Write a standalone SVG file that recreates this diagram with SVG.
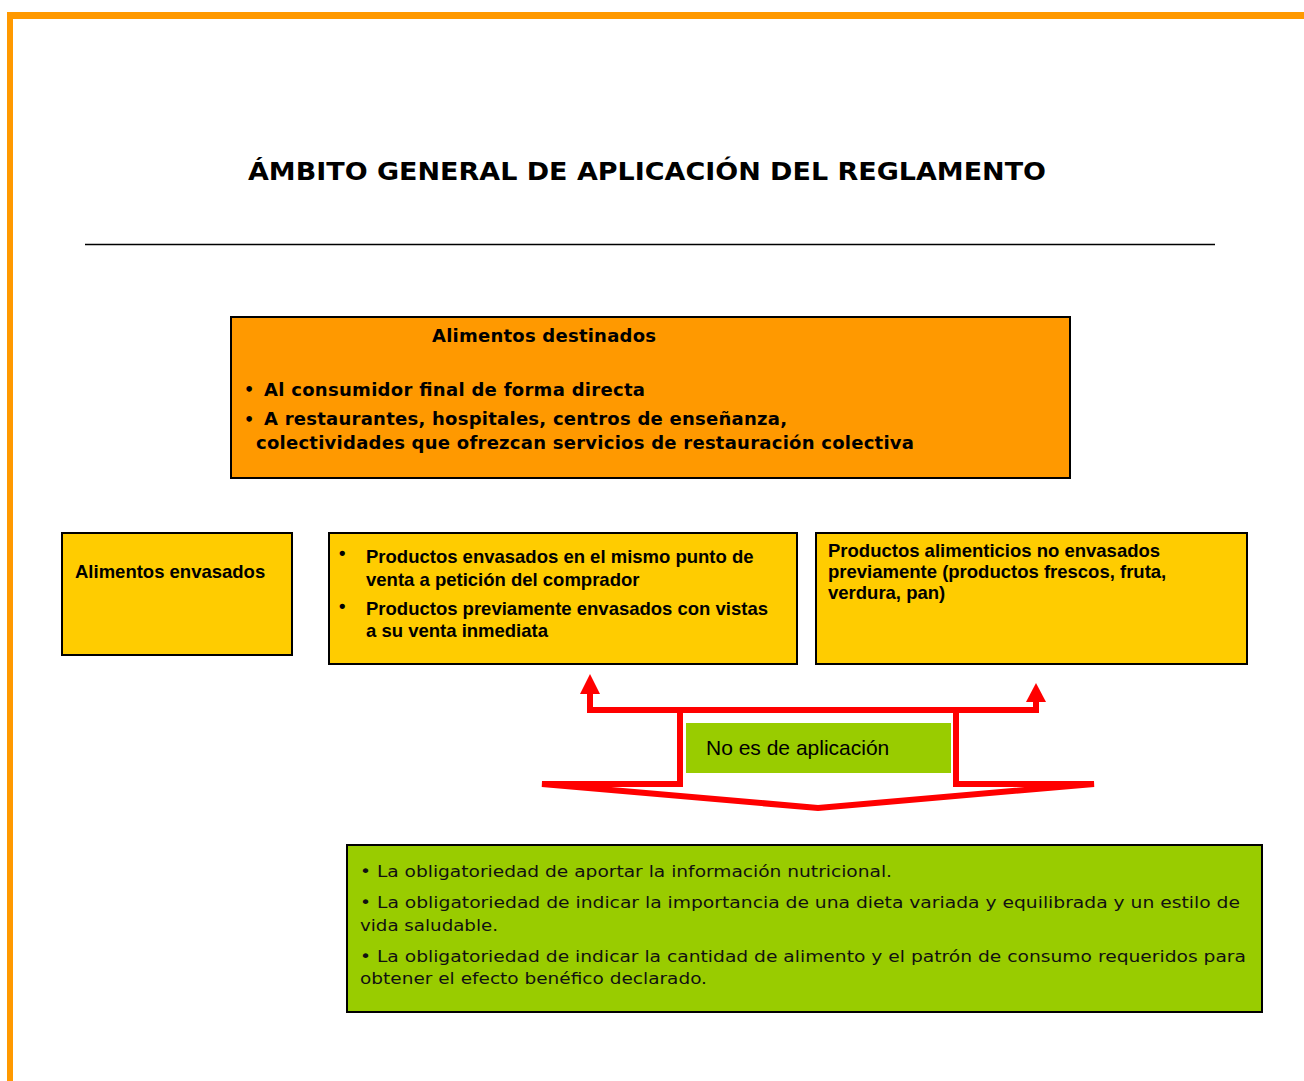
<svg xmlns="http://www.w3.org/2000/svg" width="1304" height="1081" viewBox="0 0 1304 1081">
<style>
.box{stroke:#000;stroke-width:2}
.orange{fill:#FF9900}
.yellow{fill:#FFCC00}
.green{fill:#99CC00}
.vb{font-family:"DejaVu Sans",Verdana,sans-serif;font-weight:bold;fill:#000}
.vr{font-family:"DejaVu Sans",Verdana,sans-serif;font-weight:normal;fill:#111;font-size:16.5px}
.ab{font-family:"Liberation Sans",Arial,sans-serif;font-weight:bold;fill:#000;font-size:18.5px}
.ar{font-family:"Liberation Sans",Arial,sans-serif;fill:#000;font-size:21px}
.red{fill:none;stroke:#FF0000;stroke-width:6;stroke-linejoin:miter}
</style>
<rect x="0" y="0" width="1304" height="1081" fill="#fff"/>
<g id="frame">
<rect x="7" y="12" width="1297" height="7" fill="#FF9900"/>
<rect x="7" y="12" width="6" height="1069" fill="#FF9900"/>
</g>
<g id="title">
<text class="vb" x="248" y="180" font-size="24" textLength="798" lengthAdjust="spacingAndGlyphs">ÁMBITO GENERAL DE APLICACIÓN DEL REGLAMENTO</text>
<line x1="85" y1="244.5" x2="1215" y2="244.5" stroke="#000" stroke-width="1.5"/>
</g>
<g id="alimentos-destinados">
<rect class="box orange" x="231" y="317" width="839" height="161"/>
<text class="vb" x="432" y="342" font-size="18" textLength="224">Alimentos destinados</text>
<text class="vb" x="244" y="395" font-size="16">•</text>
<text class="vb" x="264" y="396" font-size="18" textLength="381">Al consumidor final de forma directa</text>
<text class="vb" x="244" y="425" font-size="16">•</text>
<text class="vb" x="264" y="425" font-size="18" textLength="523">A restaurantes, hospitales, centros de enseñanza,</text>
<text class="vb" x="256" y="449" font-size="18" textLength="658">colectividades que ofrezcan servicios de restauración colectiva</text>
</g>
<g id="alimentos-envasados">
<rect class="box yellow" x="62" y="533" width="230" height="122"/>
<text class="ab" x="75" y="578">Alimentos envasados</text>
</g>
<g id="productos-envasados">
<rect class="box yellow" x="329" y="533" width="468" height="131"/>
<text class="ab" x="339" y="559" font-size="36">•</text>
<text class="ab" x="366" y="563">Productos envasados en el mismo punto de</text>
<text class="ab" x="366" y="586">venta a petición del comprador</text>
<text class="ab" x="339" y="612" font-size="36">•</text>
<text class="ab" x="366" y="615">Productos previamente envasados con vistas</text>
<text class="ab" x="366" y="637">a su venta inmediata</text>
</g>
<g id="productos-no-envasados">
<rect class="box yellow" x="816" y="533" width="431" height="131"/>
<text class="ab" x="828" y="557">Productos alimenticios no envasados</text>
<text class="ab" x="828" y="578">previamente (productos frescos, fruta,</text>
<text class="ab" x="828" y="599">verdura, pan)</text>
</g>
<g id="connectors">
<path class="red" d="M590 692 V710 H1036 V700"/>
<polygon points="580,694 590,674 600,694" fill="#FF0000"/>
<polygon points="1026,702 1036,683 1046,702" fill="#FF0000"/>
<path class="red" d="M680 710 V784 H542 L818 808 L1094 784 H956 V710"/>
</g>
<g id="no-aplicacion">
<rect class="green" x="686" y="723" width="265" height="50"/>
<text class="ar" x="706" y="755">No es de aplicación</text>
</g>
<g id="obligaciones">
<rect class="box green" x="347" y="845" width="915" height="167"/>
<text class="vr" x="360" y="877" textLength="532" lengthAdjust="spacingAndGlyphs">• La obligatoriedad de aportar la información nutricional.</text>
<text class="vr" x="360" y="908" textLength="880" lengthAdjust="spacingAndGlyphs">• La obligatoriedad de indicar la importancia de una dieta variada y equilibrada y un estilo de</text>
<text class="vr" x="360" y="931" textLength="138" lengthAdjust="spacingAndGlyphs">vida saludable.</text>
<text class="vr" x="360" y="962" textLength="886" lengthAdjust="spacingAndGlyphs">• La obligatoriedad de indicar la cantidad de alimento y el patrón de consumo requeridos para</text>
<text class="vr" x="360" y="984" textLength="347" lengthAdjust="spacingAndGlyphs">obtener el efecto benéfico declarado.</text>
</g>
</svg>
